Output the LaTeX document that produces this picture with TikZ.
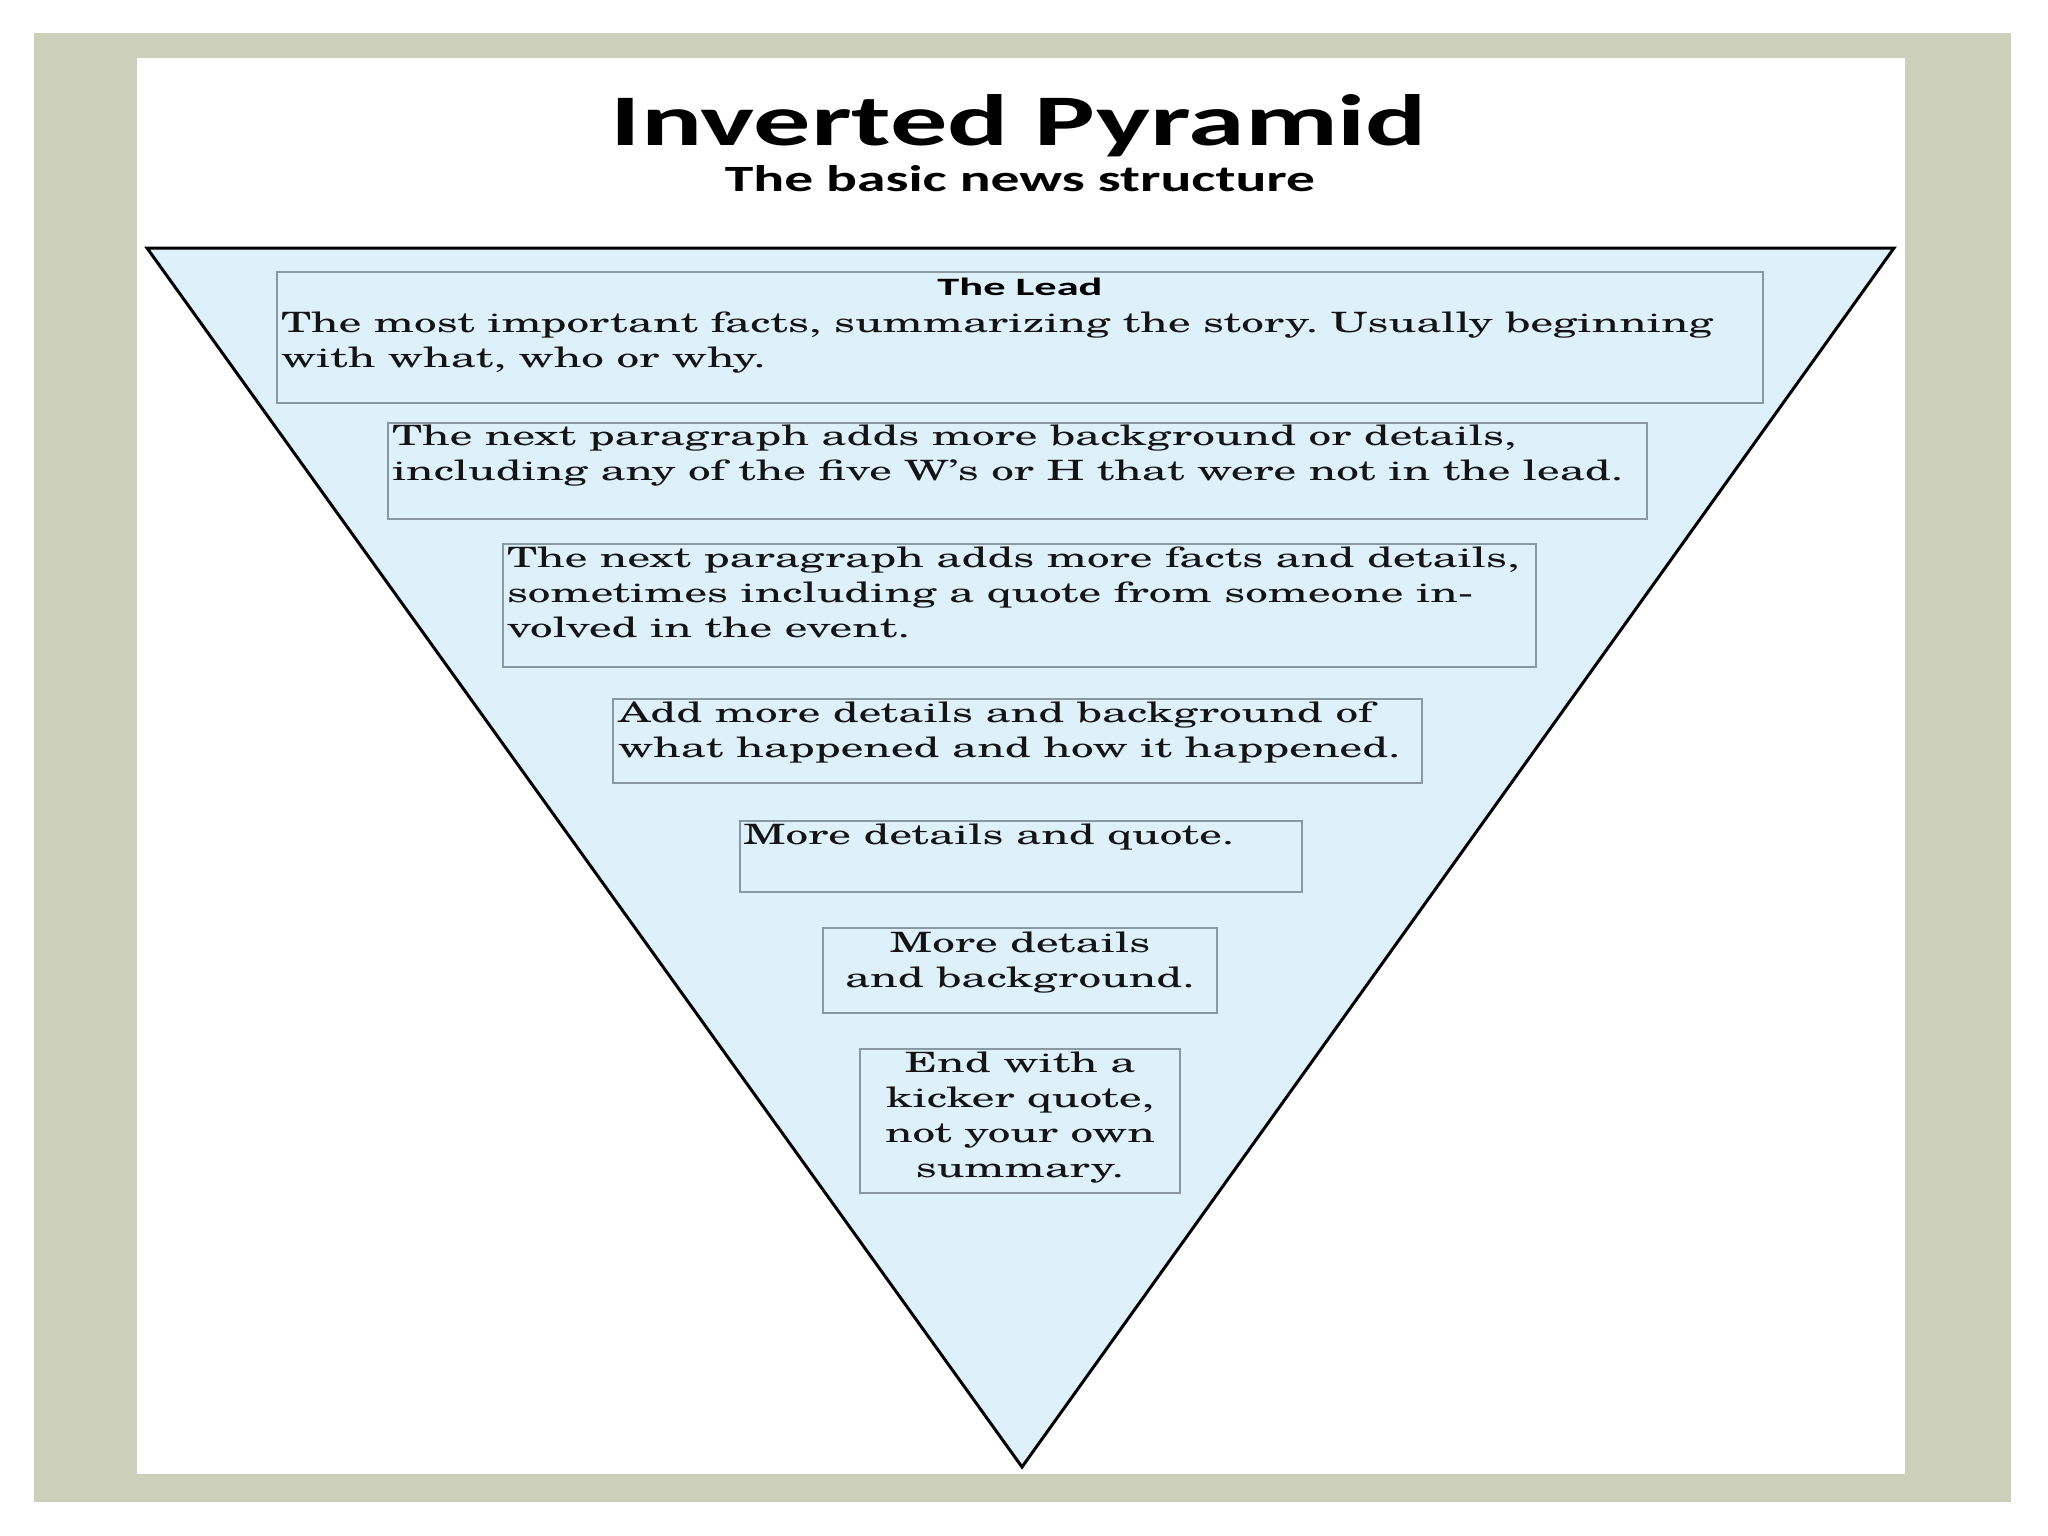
\documentclass[tikz,border=0pt]{standalone}
\usepackage{fontspec}
\usepackage{graphicx}
\setmainfont{TeX Gyre Schola}
\newfontfamily\titlefont{Carlito}
\frenchspacing
\definecolor{framegray}{RGB}{204,207,186}
\definecolor{pyr}{RGB}{222,240,250}
\definecolor{boxline}{RGB}{138,152,162}
\tikzset{
  para/.style={draw=boxline, line width=2.5pt, inner sep=0pt, outer sep=0pt, anchor=north west},
  txt/.style={inner sep=0pt, outer sep=0pt, text=black!92, font=\fontsize{28}{35}\selectfont},
  head/.style={inner sep=0pt, outer sep=0pt, anchor=base, text=black},
}
\newcommand{\kx}{1.615}
\newcommand{\LL}[1]{\scalebox{\kx}[1]{\begin{tabular}[t]{@{}l@{}}#1\end{tabular}}}
\newcommand{\CC}[1]{\scalebox{\kx}[1]{\begin{tabular}[t]{@{}c@{}}#1\end{tabular}}}
\begin{document}
\begin{tikzpicture}[x=1pt,y=-1pt]
\useasboundingbox (0,0) rectangle (2048,1536);
\fill[white] (0,0) rectangle (2048,1536);
\fill[framegray] (34,33) rectangle (2011,1502);
\fill[white] (137,58) rectangle (1905,1474);
\coordinate (tl) at (147,248);
\coordinate (tr) at (1894,248);
\coordinate (ap) at (1022,1467);
\filldraw[fill=pyr, draw=black, line width=3pt] (tl) -- (tr) -- (ap) -- cycle;

\node[head] (title) at (1019,146) {\resizebox{816pt}{51pt}{\titlefont\bfseries Inverted Pyramid}};
\node[head] (sub) at (1020,191) {\resizebox{590pt}{26pt}{\titlefont\bfseries The basic news structure}};

\node[para, minimum width=1486pt, minimum height=131pt] (b1) at (277,272) {};
\node[para, minimum width=1259pt, minimum height=96pt] (b2) at (388,423) {};
\node[para, minimum width=1033pt, minimum height=123pt] (b3) at (503,544) {};
\node[para, minimum width=809pt, minimum height=84pt] (b4) at (613,699) {};
\node[para, minimum width=562pt, minimum height=71pt] (b5) at (740,821) {};
\node[para, minimum width=394pt, minimum height=85pt] (b6) at (823,928) {};
\node[para, minimum width=320pt, minimum height=144pt] (b7) at (860,1049) {};

\node[head] (lead) at ([yshift=-23pt]b1.north) {\resizebox{165pt}{17.5pt}{\titlefont\bfseries The Lead}};
\node[txt, anchor=base west] (t1) at ([xshift=4pt,yshift=-60pt]b1.north west) {\LL{The most important facts, summarizing the story. Usually beginning\\ with what, who or why.}};
\node[txt, anchor=base west] (t2) at ([xshift=4pt,yshift=-22pt]b2.north west) {\LL{The next paragraph adds more background or details,\\ including any of the five W’s or H that were not in the lead.}};
\node[txt, anchor=base west] (t3) at ([xshift=4pt,yshift=-23pt]b3.north west) {\LL{The next paragraph adds more facts and details,\\ sometimes including a quote from someone in-\\ volved in the event.}};
\node[txt, anchor=base west] (t4) at ([xshift=5pt,yshift=-23pt]b4.north west) {\LL{Add more details and background of\\ what happened and how it happened.}};
\node[txt, anchor=base west] (t5) at ([xshift=3pt,yshift=-23pt]b5.north west) {\LL{More details and quote.}};
\node[txt, anchor=base] (t6) at ([yshift=-24pt]b6.north) {\CC{More details\\ and background.}};
\node[txt, anchor=base] (t7) at ([yshift=-23pt]b7.north) {\CC{End with a\\ kicker quote,\\ not your own\\ summary.}};
\end{tikzpicture}
\end{document}
